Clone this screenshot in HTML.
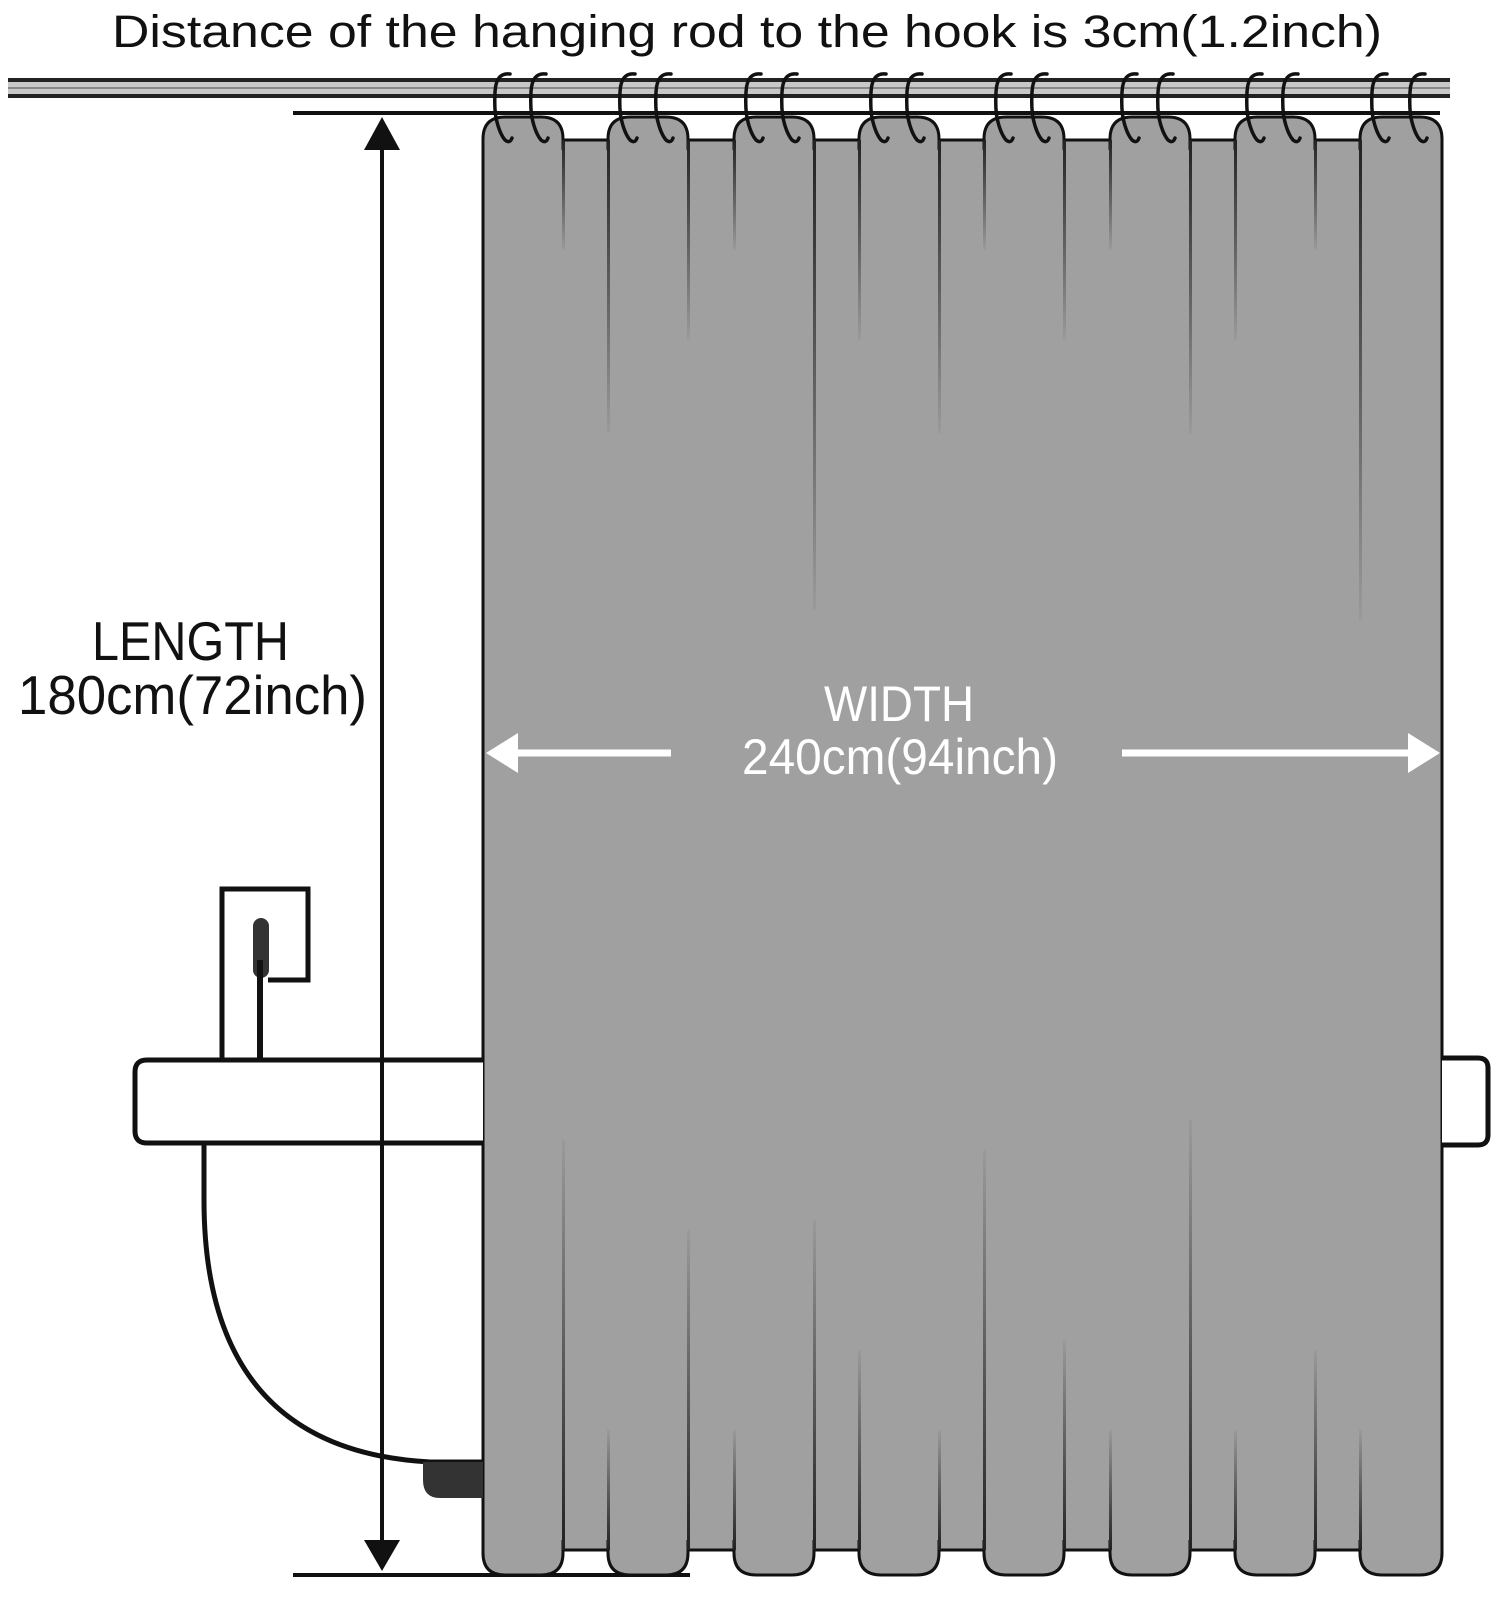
<!DOCTYPE html>
<html><head><meta charset="utf-8"><style>
html,body{margin:0;padding:0;background:#fff;}
svg{display:block;}
text{font-family:"Liberation Sans",sans-serif;}
</style></head><body>
<svg width="1500" height="1599" viewBox="0 0 1500 1599" xmlns="http://www.w3.org/2000/svg">
<defs>
<linearGradient id="fd" x1="0" y1="0" x2="0" y2="1"><stop offset="0" stop-color="#222"/><stop offset="1" stop-color="#9a9a9a"/></linearGradient>
<linearGradient id="fu" x1="0" y1="1" x2="0" y2="0"><stop offset="0" stop-color="#222"/><stop offset="1" stop-color="#9a9a9a"/></linearGradient>
</defs>
<rect width="1500" height="1599" fill="#fff"/>
<text x="112" y="47" font-size="45" fill="#111" textLength="1270" lengthAdjust="spacingAndGlyphs">Distance of the hanging rod to the hook is 3cm(1.2inch)</text>

<!-- rod -->
<rect x="8" y="80" width="1442" height="16" fill="#c8c8c8"/>
<line x1="8" y1="80" x2="1450" y2="80" stroke="#222" stroke-width="4"/>
<line x1="8" y1="96" x2="1450" y2="96" stroke="#222" stroke-width="4"/>
<line x1="8" y1="88" x2="1450" y2="88" stroke="#888" stroke-width="2"/>
<line x1="293" y1="113" x2="1440" y2="113" stroke="#111" stroke-width="4"/>

<!-- back fabric -->
<rect x="483" y="140" width="959" height="1410" fill="#a0a0a0"/>
<line x1="483" y1="140" x2="1442" y2="140" stroke="#111" stroke-width="3"/>
<line x1="483" y1="1550" x2="1442" y2="1550" stroke="#111" stroke-width="3"/>

<!-- bottom line -->
<line x1="293" y1="1575" x2="690" y2="1575" stroke="#111" stroke-width="4"/>

<!-- panels -->
<g fill="#a0a0a0" stroke="#111" stroke-width="3">
<path d="M483 1575 L483 139 Q483 117 505 117 L541 117 Q563 117 563 139 L563 1553 Q563 1575 541 1575 L505 1575 Q483 1575 483 1553 Z" stroke="none"/>
<path d="M608 1575 L608 139 Q608 117 630 117 L666 117 Q688 117 688 139 L688 1553 Q688 1575 666 1575 L630 1575 Q608 1575 608 1553 Z" stroke="none"/>
<path d="M734 1575 L734 139 Q734 117 756 117 L792 117 Q814 117 814 139 L814 1553 Q814 1575 792 1575 L756 1575 Q734 1575 734 1553 Z" stroke="none"/>
<path d="M859 1575 L859 139 Q859 117 881 117 L917 117 Q939 117 939 139 L939 1553 Q939 1575 917 1575 L881 1575 Q859 1575 859 1553 Z" stroke="none"/>
<path d="M984 1575 L984 139 Q984 117 1006 117 L1042 117 Q1064 117 1064 139 L1064 1553 Q1064 1575 1042 1575 L1006 1575 Q984 1575 984 1553 Z" stroke="none"/>
<path d="M1110 1575 L1110 139 Q1110 117 1132 117 L1168 117 Q1190 117 1190 139 L1190 1553 Q1190 1575 1168 1575 L1132 1575 Q1110 1575 1110 1553 Z" stroke="none"/>
<path d="M1235 1575 L1235 139 Q1235 117 1257 117 L1293 117 Q1315 117 1315 139 L1315 1553 Q1315 1575 1293 1575 L1257 1575 Q1235 1575 1235 1553 Z" stroke="none"/>
<path d="M1360 1575 L1360 139 Q1360 117 1382 117 L1420 117 Q1442 117 1442 139 L1442 1553 Q1442 1575 1420 1575 L1382 1575 Q1360 1575 1360 1553 Z" stroke="none"/>
</g>
<!-- caps -->
<g fill="none" stroke="#111" stroke-width="3">
<path d="M483 150 L483 139 Q483 117 505 117 L541 117 Q563 117 563 139 L563 150"/>
<path d="M608 150 L608 139 Q608 117 630 117 L666 117 Q688 117 688 139 L688 150"/>
<path d="M734 150 L734 139 Q734 117 756 117 L792 117 Q814 117 814 139 L814 150"/>
<path d="M859 150 L859 139 Q859 117 881 117 L917 117 Q939 117 939 139 L939 150"/>
<path d="M984 150 L984 139 Q984 117 1006 117 L1042 117 Q1064 117 1064 139 L1064 150"/>
<path d="M1110 150 L1110 139 Q1110 117 1132 117 L1168 117 Q1190 117 1190 139 L1190 150"/>
<path d="M1235 150 L1235 139 Q1235 117 1257 117 L1293 117 Q1315 117 1315 139 L1315 150"/>
<path d="M1360 150 L1360 139 Q1360 117 1382 117 L1420 117 Q1442 117 1442 139 L1442 150"/>
<path d="M483 1540 L483 1553 Q483 1575 505 1575 L541 1575 Q563 1575 563 1553 L563 1540"/>
<path d="M608 1540 L608 1553 Q608 1575 630 1575 L666 1575 Q688 1575 688 1553 L688 1540"/>
<path d="M734 1540 L734 1553 Q734 1575 756 1575 L792 1575 Q814 1575 814 1553 L814 1540"/>
<path d="M859 1540 L859 1553 Q859 1575 881 1575 L917 1575 Q939 1575 939 1553 L939 1540"/>
<path d="M984 1540 L984 1553 Q984 1575 1006 1575 L1042 1575 Q1064 1575 1064 1553 L1064 1540"/>
<path d="M1110 1540 L1110 1553 Q1110 1575 1132 1575 L1168 1575 Q1190 1575 1190 1553 L1190 1540"/>
<path d="M1235 1540 L1235 1553 Q1235 1575 1257 1575 L1293 1575 Q1315 1575 1315 1553 L1315 1540"/>
<path d="M1360 1540 L1360 1553 Q1360 1575 1382 1575 L1420 1575 Q1442 1575 1442 1553 L1442 1540"/>
</g>
<!-- outer edges -->
<line x1="483" y1="140" x2="483" y2="1555" stroke="#111" stroke-width="3"/>
<line x1="1442" y1="140" x2="1442" y2="1555" stroke="#111" stroke-width="3"/>
<!-- top fold lines -->
<g stroke-width="3">
<rect x="562" y="140" width="3" height="110" fill="url(#fd)"/>
<rect x="607" y="140" width="3" height="293" fill="url(#fd)"/>
<rect x="687" y="140" width="3" height="200" fill="url(#fd)"/>
<rect x="733" y="140" width="3" height="110" fill="url(#fd)"/>
<rect x="813" y="140" width="3" height="470" fill="url(#fd)"/>
<rect x="858" y="140" width="3" height="200" fill="url(#fd)"/>
<rect x="938" y="140" width="3" height="293" fill="url(#fd)"/>
<rect x="983" y="140" width="3" height="110" fill="url(#fd)"/>
<rect x="1063" y="140" width="3" height="200" fill="url(#fd)"/>
<rect x="1109" y="140" width="3" height="110" fill="url(#fd)"/>
<rect x="1189" y="140" width="3" height="293" fill="url(#fd)"/>
<rect x="1234" y="140" width="3" height="200" fill="url(#fd)"/>
<rect x="1314" y="140" width="3" height="110" fill="url(#fd)"/>
<rect x="1359" y="140" width="3" height="480" fill="url(#fd)"/>
</g>
<!-- bottom fold lines -->
<g>
<rect x="562" y="1140" width="3" height="410" fill="url(#fu)"/>
<rect x="607" y="1430" width="3" height="120" fill="url(#fu)"/>
<rect x="687" y="1230" width="3" height="320" fill="url(#fu)"/>
<rect x="733" y="1430" width="3" height="120" fill="url(#fu)"/>
<rect x="813" y="1220" width="3" height="330" fill="url(#fu)"/>
<rect x="858" y="1350" width="3" height="200" fill="url(#fu)"/>
<rect x="938" y="1430" width="3" height="120" fill="url(#fu)"/>
<rect x="983" y="1150" width="3" height="400" fill="url(#fu)"/>
<rect x="1063" y="1340" width="3" height="210" fill="url(#fu)"/>
<rect x="1109" y="1430" width="3" height="120" fill="url(#fu)"/>
<rect x="1189" y="1120" width="3" height="430" fill="url(#fu)"/>
<rect x="1234" y="1430" width="3" height="120" fill="url(#fu)"/>
<rect x="1314" y="1350" width="3" height="200" fill="url(#fu)"/>
<rect x="1359" y="1430" width="3" height="120" fill="url(#fu)"/>
</g>

<!-- hooks -->
<g fill="none" stroke="#111" stroke-width="3.5" stroke-linecap="round">
<path id="hk" d="M510 74 Q496 72 495 92 Q494 112 497 122 Q500 134 505 140 Q510 144 512 138"/>
<path d="M546 74 Q532 72 531 92 Q530 112 533 122 Q536 134 541 140 Q546 144 548 138"/>
<path d="M635 74 Q621 72 620 92 Q619 112 622 122 Q625 134 630 140 Q635 144 637 138"/>
<path d="M671 74 Q657 72 656 92 Q655 112 658 122 Q661 134 666 140 Q671 144 673 138"/>
<path d="M761 74 Q747 72 746 92 Q745 112 748 122 Q751 134 756 140 Q761 144 763 138"/>
<path d="M797 74 Q783 72 782 92 Q781 112 784 122 Q787 134 792 140 Q797 144 799 138"/>
<path d="M886 74 Q872 72 871 92 Q870 112 873 122 Q876 134 881 140 Q886 144 888 138"/>
<path d="M922 74 Q908 72 907 92 Q906 112 909 122 Q912 134 917 140 Q922 144 924 138"/>
<path d="M1011 74 Q997 72 996 92 Q995 112 998 122 Q1001 134 1006 140 Q1011 144 1013 138"/>
<path d="M1047 74 Q1033 72 1032 92 Q1031 112 1034 122 Q1037 134 1042 140 Q1047 144 1049 138"/>
<path d="M1137 74 Q1123 72 1122 92 Q1121 112 1124 122 Q1127 134 1132 140 Q1137 144 1139 138"/>
<path d="M1173 74 Q1159 72 1158 92 Q1157 112 1160 122 Q1163 134 1168 140 Q1173 144 1175 138"/>
<path d="M1262 74 Q1248 72 1247 92 Q1246 112 1249 122 Q1252 134 1257 140 Q1262 144 1264 138"/>
<path d="M1298 74 Q1284 72 1283 92 Q1282 112 1285 122 Q1288 134 1293 140 Q1298 144 1300 138"/>
<path d="M1387 74 Q1373 72 1372 92 Q1371 112 1374 122 Q1377 134 1382 140 Q1387 144 1389 138"/>
<path d="M1425 74 Q1411 72 1410 92 Q1409 112 1412 122 Q1415 134 1420 140 Q1425 144 1427 138"/>
</g>

<!-- length arrow -->
<line x1="382" y1="145" x2="382" y2="1545" stroke="#111" stroke-width="4"/>
<polygon points="382,117 364,150 400,150" fill="#111"/>
<polygon points="382,1571 364,1540 400,1540" fill="#111"/>
<text x="92" y="660" font-size="55" fill="#111" textLength="197" lengthAdjust="spacingAndGlyphs">LENGTH</text>
<text x="18" y="714" font-size="55" fill="#111" textLength="349" lengthAdjust="spacingAndGlyphs">180cm(72inch)</text>

<!-- width -->
<text x="824" y="721" font-size="50" fill="#fff" textLength="150" lengthAdjust="spacingAndGlyphs">WIDTH</text>
<text x="742" y="774" font-size="50" fill="#fff" textLength="316" lengthAdjust="spacingAndGlyphs">240cm(94inch)</text>
<line x1="510" y1="753" x2="671" y2="753" stroke="#fff" stroke-width="7"/>
<polygon points="486,753 518,733 518,773" fill="#fff"/>
<line x1="1122" y1="753" x2="1415" y2="753" stroke="#fff" stroke-width="7"/>
<polygon points="1440,753 1408,733 1408,773" fill="#fff"/>

<!-- sink -->
<path d="M483 1060 L147 1060 Q135 1060 135 1072 L135 1131 Q135 1143 147 1143 L483 1143" fill="#fff" stroke="#111" stroke-width="5"/>
<line x1="382" y1="1058" x2="382" y2="1145" stroke="#111" stroke-width="4"/>
<path d="M222 1058 L222 889 L308 889 L308 980 L268 980" fill="none" stroke="#111" stroke-width="5"/>
<rect x="253" y="918" width="16" height="60" rx="8" fill="#333"/>
<line x1="260" y1="960" x2="260" y2="1058" stroke="#111" stroke-width="6"/>
<path d="M204 1145 L204 1200 Q204 1450 430 1462 L483 1462" fill="none" stroke="#111" stroke-width="5"/>
<path d="M423 1462 L483 1462 L483 1498 L440 1498 Q423 1498 423 1480 Z" fill="#333"/>
<!-- right stub -->
<path d="M1442 1058 L1478 1058 Q1488 1058 1488 1068 L1488 1135 Q1488 1145 1478 1145 L1442 1145" fill="#fff" stroke="#111" stroke-width="5"/>
</svg>
</body></html>
